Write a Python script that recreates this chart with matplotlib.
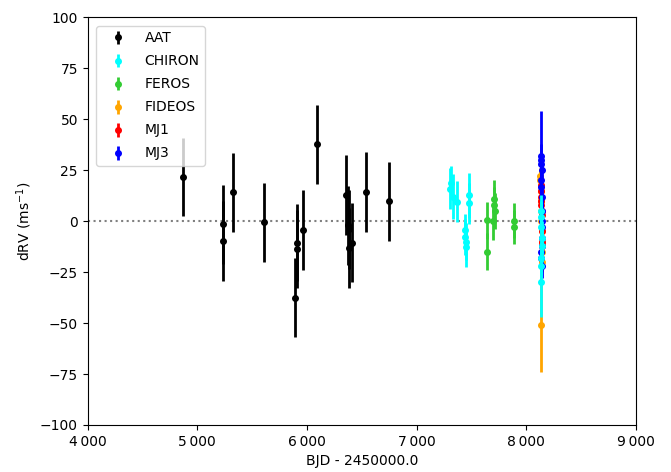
import numpy as np
import matplotlib.pyplot as plt
from matplotlib.ticker import FuncFormatter, MultipleLocator

# --- RV data (BJD - 2450000, dRV, error) ---
aat_t = [4872, 5232, 5232, 5323, 5609, 5891, 5907, 5912, 5967, 6089,
         6354, 6378, 6382, 6387, 6409, 6537, 6746]
aat_rv = [21.6, -1.6, -9.8, 14.1, -0.5, -37.5, -10.5, -13.7, -4.4, 37.8,
          12.9, -2.0, -4.0, -13.1, -10.5, 14.4, 9.7]
aat_err = [19.0, 19.5, 19.5, 19.5, 19.5, 19.5, 19.0, 19.0, 19.5, 19.3,
           19.5, 19.5, 19.5, 19.5, 19.5, 19.6, 19.6]

chiron_t = [7306, 7312, 7330, 7367, 7440, 7445, 7448, 7452, 7478, 7482,
            8136, 8138, 8140, 8141, 8142, 8139, 8137, 8140]
chiron_rv = [16.0, 19.0, 12.0, 9.5, -4.5, -7.7, -12.6, -10.0, 12.8, 8.7,
             5.0, 2.0, -3.0, -8.0, -12.0, -18.0, -22.0, -30.0]
chiron_err = [10, 8, 11, 10, 8, 9, 10, 9, 11, 10,
              8, 8, 8, 8, 8, 8, 8, 17]

feros_t = [7641, 7641, 7700, 7705, 7708, 7712, 7890, 7893]
feros_rv = [0.5, -15.0, 0.0, 11.0, 8.0, 5.0, 0.2, -2.8]
feros_err = [9, 9, 9, 9, 9, 9, 8.5, 8.5]

fideos_t = [8128, 8131, 8134, 8136, 8138, 8140, 8142, 8144, 8146, 8148, 8140]
fideos_rv = [22.0, 20.0, 15.0, 10.0, 5.0, 0.0, -5.0, -10.0, -15.0, -20.0, -51.0]
fideos_err = [4, 5, 8, 9, 8, 8, 8, 7, 6, 5, 23]

mj1_t = [8135, 8137, 8139, 8140, 8141, 8142, 8143, 8144, 8145, 8138]
mj1_rv = [18.0, 15.0, 10.0, 8.0, 5.0, 3.0, -5.0, -10.0, -12.0, 12.0]
mj1_err = [5, 5, 5, 5, 5, 5, 5, 5, 5, 5]

mj3_t = [8136, 8137, 8138, 8139, 8140, 8141, 8142, 8143, 8144, 8145,
         8146, 8138, 8140, 8142, 8141]
mj3_rv = [30.0, 32.0, 28.0, 20.0, 17.0, 12.0, 5.0, 0.0, -3.0, -8.0,
          -12.0, -15.0, -18.0, -22.0, 25.0]
mj3_err = [24, 6, 6, 6, 6, 6, 6, 6, 6, 6, 6, 6, 6, 6, 6]

fig = plt.figure(figsize=(6.71, 4.72), dpi=100)
ax = fig.add_axes([0.1307, 0.0996, 0.8167, 0.8634])

kw = dict(fmt='o', ms=4, elinewidth=2, capsize=0)
h_aat = ax.errorbar(aat_t, aat_rv, yerr=aat_err, color='black', label='AAT', zorder=2, **kw)
h_fer = ax.errorbar(feros_t, feros_rv, yerr=feros_err, color='#33cc33', label='FEROS', zorder=2, **kw)
h_fid = ax.errorbar(fideos_t, fideos_rv, yerr=fideos_err, color='orange', label='FIDEOS', zorder=3, **kw)
h_mj1 = ax.errorbar(mj1_t, mj1_rv, yerr=mj1_err, color='red', label='MJ1', zorder=4, **kw)
h_mj3 = ax.errorbar(mj3_t, mj3_rv, yerr=mj3_err, color='blue', label='MJ3', zorder=5, **kw)
h_chi = ax.errorbar(chiron_t, chiron_rv, yerr=chiron_err, color='cyan', label='CHIRON', zorder=6, **kw)

ax.axhline(0, ls=':', color='gray', lw=1.5, zorder=1)

ax.set_xlim(4000, 9000)
ax.set_ylim(-100, 100)
ax.yaxis.set_major_locator(MultipleLocator(25))
ax.xaxis.set_major_formatter(FuncFormatter(lambda v, p: f"{int(v) // 1000}\u2009{int(v) % 1000:03d}"))
ax.tick_params(labelsize=10)

ax.set_xlabel('BJD - 2450000.0', fontsize=10)
ax.set_ylabel('dRV (ms$^{-1}$)', fontsize=10)

ax.legend(handles=[h_aat, h_chi, h_fer, h_fid, h_mj1, h_mj3], loc='upper left',
          fontsize=10, borderaxespad=0.6, labelspacing=0.65, handlelength=2.3)

plt.savefig('out.png', dpi=100)
